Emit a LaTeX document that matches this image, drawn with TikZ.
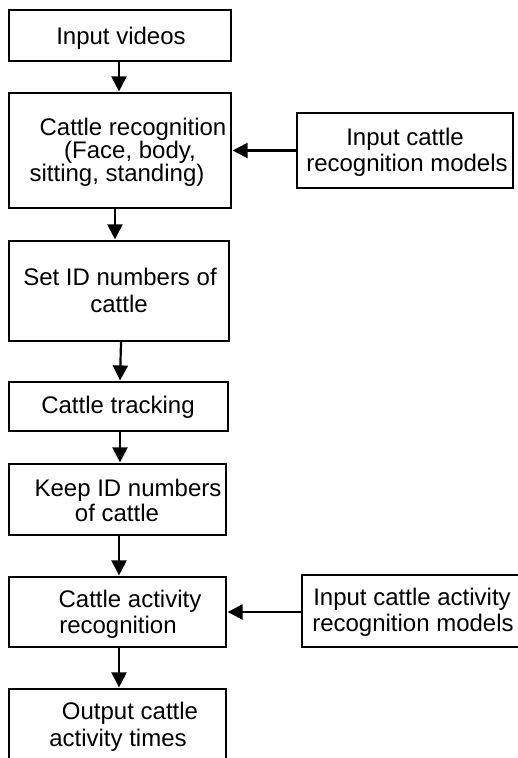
\documentclass[tikz,border=0pt]{standalone}
\usepackage{fontspec}
\setmainfont{Liberation Sans}
\usetikzlibrary{arrows.meta}
\tikzset{
  box/.style={draw=black, line width=2.2pt, inner sep=0pt, fill=none},
  txt/.style={anchor=base, inner sep=0pt, font=\fontsize{24}{25}\selectfont},
  arr/.style={line width=2.2pt, -{Triangle[width=15pt,length=15pt]}, shorten >=0.5pt}
}
\begin{document}
\begin{tikzpicture}[x=1pt, y=-1pt]
\path[fill=white, use as bounding box] (0,0) rectangle (518,758);
\clip (0,0) rectangle (518,758);
% boxes
\node[box, minimum width=222pt, minimum height=51pt]  (b1) at (120,35.5) {};
\node[box, minimum width=222pt, minimum height=115pt] (b2) at (120,150.5) {};
\node[box, minimum width=216pt, minimum height=75pt]  (r1) at (405,150.5) {};
\node[box, minimum width=220pt, minimum height=100pt] (b3) at (119,291) {};
\node[box, minimum width=219pt, minimum height=49pt]  (b4) at (118.5,406.5) {};
\node[box, minimum width=217pt, minimum height=71pt]  (b5) at (117.5,499.5) {};
\node[box, minimum width=217pt, minimum height=70pt]  (b6) at (117.5,612) {};
\node[box, minimum width=240pt, minimum height=72pt]  (r2) at (422,611) {};
\node[box, minimum width=217pt, minimum height=110pt] (b7) at (117.5,744) {};
% texts
\node[txt] (t1)  at (121,44)  {Input videos};
\node[txt] (t2a) at (133,135) {Cattle recognition};
\node[txt] (t2b) at (130,158) {(Face, body,};
\node[txt] (t2c) at (117,181) {sitting, standing)};
\node[txt] (r1a) at (405,145) {Input cattle};
\node[txt] (r1b) at (407,171) {recognition models};
\node[txt] (t3a) at (120,285) {Set ID numbers of};
\node[txt] (t3b) at (119,312) {cattle};
\node[txt] (t4)  at (118,413) {Cattle tracking};
\node[txt] (t5a) at (128,496) {Keep ID numbers};
\node[txt] (t5b) at (117,521) {of cattle};
\node[txt] (t6a) at (130,607) {Cattle activity};
\node[txt] (t6b) at (118,633) {recognition};
\node[txt] (t7a) at (130,719) {Output cattle};
\node[txt] (t7b) at (118,746) {activity times};
\node[txt] (r2a) at (412,605) {Input cattle activity};
\node[txt] (r2b) at (413,631) {recognition models};
% connectors
\draw[arr] ([xshift=-1pt]b1.south) -- ([xshift=-1pt]b2.north);
\draw[arr] ([xshift=-5pt]b2.south) -- ([xshift=-4pt]b3.north);
\draw[arr] ([xshift=2pt]b3.south) -- ([xshift=1.5pt]b4.north);
\draw[arr] ([xshift=1.5pt]b4.south) -- ([xshift=2.5pt]b5.north);
\draw[arr] ([xshift=1.5pt]b5.south) -- ([xshift=1.5pt]b6.north);
\draw[arr] ([xshift=1.5pt]b6.south) -- ([xshift=1.5pt]b7.north);
\draw[arr] (r1.west) -- (r1.west -| b2.east);
\draw[arr] ([yshift=-1pt]r2.west) -- ([yshift=-1pt]r2.west -| b6.east);
\end{tikzpicture}
\end{document}
